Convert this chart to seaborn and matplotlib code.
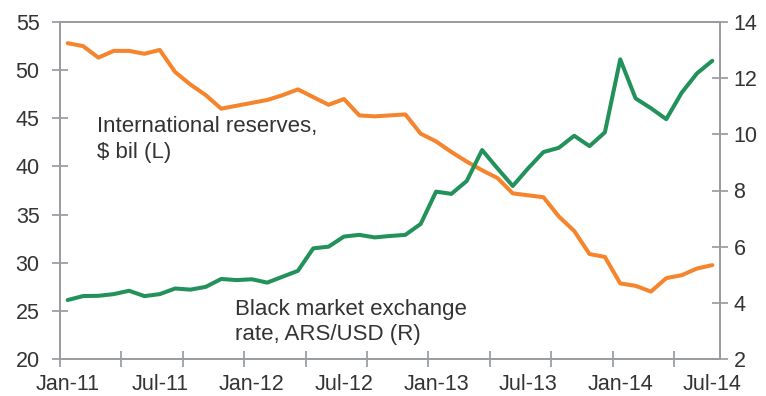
import matplotlib
matplotlib.use("Agg")
import matplotlib.pyplot as plt
import seaborn as sns
import numpy as np
import pandas as pd

# ---- data ----
month_labels = ["Jan-11", "Jul-11", "Jan-12", "Jul-12", "Jan-13", "Jul-13", "Jan-14", "Jul-14"]
reserves = [52.8, 52.5, 51.3, 52.0, 52.0, 51.7, 52.1, 49.8, 48.5, 47.4, 46.0,
            46.3, 46.6, 46.9, 47.4, 48.0, 47.2, 46.4, 47.0, 45.3, 45.2, 45.3,
            45.4, 43.4, 42.6, 41.5, 40.5, 39.6, 38.8, 37.2, 37.0, 36.8, 34.8,
            33.3, 30.9, 30.6, 27.85, 27.6, 27.0, 28.4, 28.7, 29.4, 29.75]
black_rate = [4.10, 4.24, 4.25, 4.31, 4.43, 4.24, 4.31, 4.51, 4.47, 4.57, 4.85,
              4.81, 4.84, 4.72, 4.93, 5.14, 5.94, 6.00, 6.36, 6.42, 6.33, 6.38,
              6.42, 6.81, 7.96, 7.88, 8.34, 9.44, 8.79, 8.16, 8.79, 9.37, 9.52,
              9.95, 9.58, 10.07, 12.67, 11.28, 10.93, 10.54, 11.48, 12.17, 12.62]
left_ticks = [20, 25, 30, 35, 40, 45, 50, 55]
right_ticks = [2, 4, 6, 8, 10, 12, 14]

label_reserves = "International reserves,\n$ bil (L)"
label_rate = "Black market exchange\nrate, ARS/USD (R)"

df = pd.DataFrame({"idx": np.arange(len(reserves)),
                   "reserves": reserves, "rate": black_rate})

sns.set_style("white")
plt.rcParams["font.family"] = ["Liberation Sans", "DejaVu Sans"]

W, H = 766, 396
fig = plt.figure(figsize=(W / 100, H / 100), dpi=100)
ax = fig.add_axes([60 / W, 1 - 359 / H, 660 / W, 337 / H])
ax2 = ax.twinx()

orange = "#F5842C"
green = "#22915A"
sns.lineplot(data=df, x="idx", y="reserves", ax=ax, color=orange, linewidth=2.9)
sns.lineplot(data=df, x="idx", y="rate", ax=ax2, color=green, linewidth=2.9)

n = len(reserves)
ax.set_xlim(-0.5, n - 0.5)
ax.set_ylim(20, 55)
ax2.set_ylim(2, 14)
ax.set_yticks(left_ticks)
ax2.set_yticks(right_ticks)
ax.set_xticks(np.arange(0, n, 6))
ax.set_xticklabels(month_labels)
ax.set_xticks(np.arange(-0.5, n - 1, 4), minor=True)

for a in (ax, ax2):
    a.set_xlabel("")
    a.set_ylabel("")
    for s in a.spines.values():
        s.set_color("#9a9ea3")
        s.set_linewidth(1.3)
        s.set_visible(True)

txt = "#333333"
fs = 16
tfs = 15.5
ax.tick_params(axis="y", which="major", direction="inout", length=11.5, width=1.1,
               color="#8a8e93", labelsize=tfs, labelcolor=txt, pad=9, left=True)
ax2.tick_params(axis="y", which="major", direction="inout", length=11.5, width=1.1,
                color="#8a8e93", labelsize=tfs, labelcolor=txt, pad=4, right=True)
ax.tick_params(axis="x", which="major", length=0, labelsize=tfs, labelcolor=txt, pad=10.5)
ax.tick_params(axis="x", which="minor", direction="inout", length=11, width=1.1,
               color="#8a8e93", bottom=True)
ax2.tick_params(axis="x", which="both", length=0)

ax.text(0.056, 0.72, label_reserves, transform=ax.transAxes, ha="left", va="top",
        fontsize=fs, color=txt, linespacing=1.27)
ax.text(0.265, 0.178, label_rate, transform=ax.transAxes, ha="left", va="top",
        fontsize=fs, color=txt, linespacing=1.27)

fig.savefig("out.png", dpi=100)
